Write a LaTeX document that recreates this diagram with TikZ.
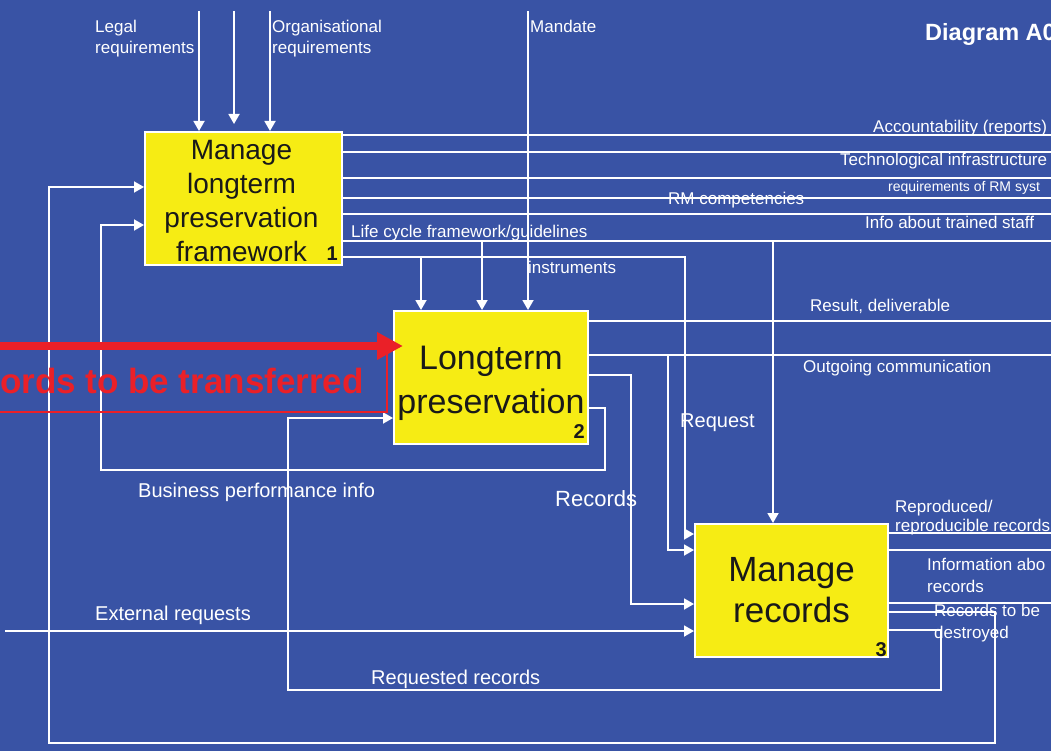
\documentclass[tikz,border=0pt]{standalone}
\usepackage{fontspec}
\setmainfont{Liberation Sans}
\usetikzlibrary{arrows.meta,calc}
\definecolor{bgblue}{RGB}{57,83,165}
\definecolor{boxyellow}{RGB}{246,236,20}
\definecolor{alertred}{RGB}{234,32,40}
\definecolor{ink}{RGB}{25,25,25}

\begin{document}
\begin{tikzpicture}[x=1pt,y=-1pt,
  wire/.style={draw=white, line width=1.8pt},
  arr/.style={wire, -{Triangle[length=10pt,width=11pt]}},
  act/.style={draw=white, line width=2pt, fill=boxyellow, inner sep=0pt},
  acttext/.style={text=ink, align=center, inner sep=0pt},
  num/.style={font=\fontsize{20}{20}\selectfont\bfseries, text=ink, inner sep=0pt, anchor=base east},
  lbl/.style={text=white, font=\fontsize{17}{17}\selectfont, inner sep=0pt, anchor=base west},
  biglbl/.style={lbl, font=\fontsize{20}{20}\selectfont},
  smalllbl/.style={lbl, font=\fontsize{14}{14}\selectfont},
]
\useasboundingbox (0,0) rectangle (1051,751);
\fill[bgblue] (0,0) rectangle (1051,751);
\clip (0,0) rectangle (1051,751);

% margins used as free ends of connectors
\coordinate (rim) at (1051,0);

% activity boxes
\node[act, minimum width=197pt, minimum height=133pt] (b1) at (243.5,198.5) {};
\node[act, minimum width=194pt, minimum height=133pt] (b2) at (491,377.5) {};
\node[act, minimum width=193pt, minimum height=133pt] (b3) at (791.5,590.5) {};
\node[acttext, font=\fontsize{28}{34}\selectfont] (t1) at ($(b1.center)+(-2,2.5)$)
  {Manage\\longterm\\preservation\\framework};
\node[acttext, font=\fontsize{34}{44}\selectfont] (t2) at ($(b2.center)+(0,6)$)
  {Longterm\\preservation};
\node[acttext, font=\fontsize{35}{41}\selectfont] (t3) at (b3.center) {Manage\\records};
\node[num] (n1) at ($(b1.south east)+(-5,-6)$) {1};
\node[num] (n2) at ($(b2.south east)+(-4,-7)$) {2};
\node[num] (n3) at ($(b3.south east)+(-2,-2)$) {3};

% controls from above
\coordinate (legalIn) at (199,11);
\coordinate (policyIn) at (234,11);
\coordinate (policyEnd) at (234,124);
\coordinate (orgIn) at (270,11);
\coordinate (mandateIn) at (528,11);
\draw[arr] (legalIn) -- (legalIn |- b1.north);
\draw[arr] (policyIn) -- (policyEnd);
\draw[arr] (orgIn) -- (orgIn |- b1.north);
\draw[arr] (mandateIn) -- (mandateIn |- b2.north);

% outputs of box 1
\foreach \y in {135,152,178,198,214,241}
  \draw[wire] (b1.east |- 0,\y) -- (rim |- 0,\y);
\draw[arr] (482,241) -- (482,241 |- b2.north);
\draw[arr] (773,241) -- (773,241 |- b3.north);
\draw[arr] (b1.east |- 0,257) -- (685,257) -- (685,534) -- (b3.west |- 0,534);
\draw[arr] (421,257) -- (421,257 |- b2.north);

% outputs of box 2
\draw[wire] (b2.east |- 0,321) -- (rim |- 0,321);
\draw[wire] (b2.east |- 0,355) -- (rim |- 0,355);
\draw[arr] (668,355) -- (668,550) -- (b3.west |- 0,550);
\draw[arr] (b2.east |- 0,375) -- (631,375) -- (631,604) -- (b3.west |- 0,604);
\draw[arr] (b2.east |- 0,408) -- (605,408) -- (605,470) -- (101,470) -- (101,225) -- (b1.west |- 0,225);

% external requests
\coordinate (extIn) at (5,631);
\draw[arr] (extIn) -- (b3.west |- extIn);

% outputs of box 3
\foreach \y in {533,550,603}
  \draw[wire] (b3.east |- 0,\y) -- (rim |- 0,\y);
\draw[arr] (b3.east |- 0,630) -- (941,630) -- (941,690) -- (288,690) -- (288,418) -- (b2.west |- 0,418);
\draw[arr] (b3.east |- 0,612) -- (995,612) -- (995,743) -- (49,743) -- (49,187) -- (b1.west |- 0,187);

% highlighted input
\coordinate (redIn) at (0,346);
\coordinate (redTip) at (403,346);
\coordinate (redFrame) at (0,412);
\draw[alertred, line width=1.6pt] (redFrame) -- (387,412) -- (387,354);
\draw[alertred, line width=8pt, -{Triangle[length=26pt,width=26pt]}] (redIn) -- (redTip);
\node[anchor=base east, inner sep=0pt, text=alertred, font=\fontsize{35}{35}\selectfont\bfseries]
  (redlbl) at (364,393) {ords to be transferred};

% labels
\node[lbl] (l1a) at (95,33) {Legal};
\node[lbl] (l1b) at (95,54) {requirements};
\node[lbl] (l2a) at (272,33) {Organisational};
\node[lbl] (l2b) at (272,54) {requirements};
\node[lbl] (l3) at (530,33) {Mandate};
\node[anchor=base west, inner sep=0pt, text=white, font=\fontsize{23.5}{23.5}\selectfont\bfseries]
  (title) at (925,41) {Diagram A0};
\node[lbl] (o1) at (873,133) {Accountability (reports)};
\node[lbl] (o2) at (840,166) {Technological infrastructure};
\node[smalllbl] (o3) at (888,192) {requirements of RM syst};
\node[lbl] (o4) at (668,205) {RM competencies};
\node[lbl] (o5) at (865,229) {Info about trained staff};
\node[lbl] (o6) at (351,237) {Life cycle framework/guidelines};
\node[lbl] (o7) at (528,273) {instruments};
\node[lbl] (o8) at (810,311) {Result, deliverable};
\node[lbl] (o9) at (803,372) {Outgoing communication};
\node[biglbl] (o10) at (680,427) {Request};
\node[biglbl] (o11) at (138,497) {Business performance info};
\node[lbl, font=\fontsize{22}{22}\selectfont] (o12) at (555,506) {Records};
\node[lbl] (o13a) at (895,512) {Reproduced/};
\node[lbl] (o13b) at (895,531) {reproducible records};
\node[lbl] (o14a) at (927,570) {Information abo};
\node[lbl] (o14b) at (927,592) {records};
\node[lbl] (o15a) at (934,616) {Records to be};
\node[lbl] (o15b) at (934,638) {destroyed};
\node[biglbl] (o16) at (95,620) {External requests};
\node[biglbl] (o17) at (371,684) {Requested records};
\end{tikzpicture}
\end{document}
